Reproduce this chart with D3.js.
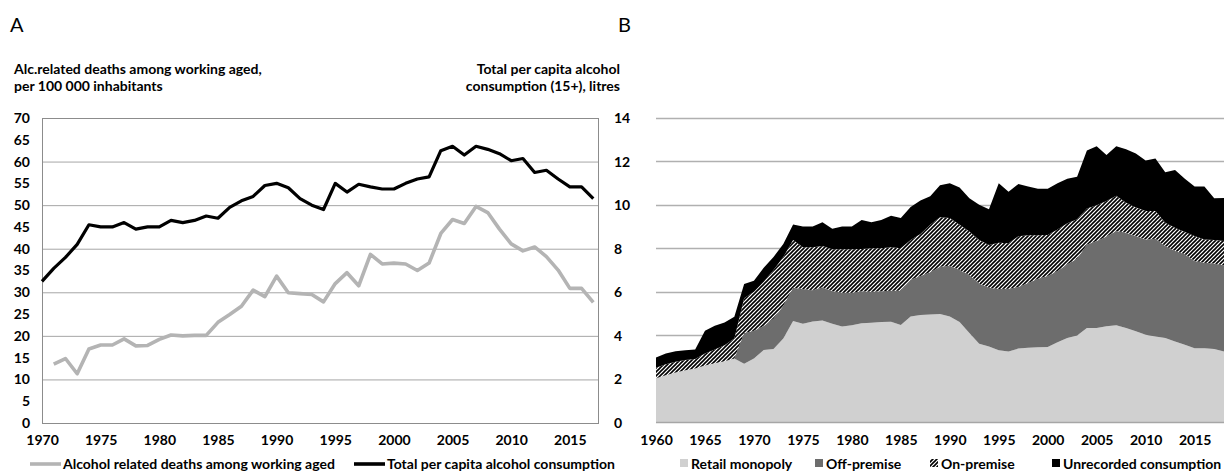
<!DOCTYPE html>
<html>
<head>
<meta charset="utf-8">
<script src="https://cdn.jsdelivr.net/npm/d3@7"></script>
<style>
  body { margin: 0; background: #fff; }
  svg { font-family: Lato, "Open Sans", sans-serif; }
</style>
</head>
<body>
<script>
const w = 1224;
const h = 472;
const fs = 14;

// * PANEL A DATA
const yearsA = d3.range(1970, 2018);
// alcohol related deaths among working aged, per 100 000 (starts 1971)
const deaths = [null, 13.5, 14.8, 11.3, 17, 17.9, 17.9, 19.3, 17.7, 17.8,
	19.2, 20.2, 20, 20.1, 20.1, 23.1, 24.9, 26.8, 30.5, 29,
	33.7, 29.9, 29.7, 29.5, 27.8, 32, 34.5, 31.5, 38.7, 36.5,
	36.7, 36.5, 35, 36.7, 43.5, 46.7, 45.8, 49.7, 48.3, 44.5,
	41.1, 39.5, 40.4, 38.2, 35.1, 30.9, 30.9, 27.7];
// total per capita consumption (15+), litres
const consumption = [6.5, 7.1, 7.6, 8.2, 9.1, 9.0, 9.0, 9.2, 8.9, 9.0,
	9.0, 9.3, 9.2, 9.3, 9.5, 9.4, 9.9, 10.2, 10.4, 10.9,
	11.0, 10.8, 10.3, 10.0, 9.8, 11.0, 10.6, 10.96, 10.84, 10.74,
	10.74, 11.0, 11.2, 11.3, 12.5, 12.7, 12.3, 12.7, 12.56, 12.36,
	12.04, 12.14, 11.5, 11.6, 11.2, 10.84, 10.84, 10.3];
const leftTicks = d3.range(0, 71, 5);
const rightTicks = d3.range(0, 15, 2);
const xTicksA = d3.range(1970, 2016, 5);

// * PANEL B DATA
const yearsB = d3.range(1960, 2019);
const retail = [2.02, 2.15, 2.28, 2.38, 2.46, 2.60, 2.70, 2.80, 2.92, 2.68,
	2.93, 3.32, 3.36, 3.85, 4.65, 4.52, 4.63, 4.68, 4.52, 4.40,
	4.45, 4.55, 4.57, 4.60, 4.62, 4.47, 4.86, 4.93, 4.95, 4.97,
	4.86, 4.60, 4.10, 3.60, 3.48, 3.30, 3.25, 3.38, 3.42, 3.44,
	3.45, 3.67, 3.87, 3.98, 4.33, 4.33, 4.41, 4.45, 4.33, 4.18,
	4.02, 3.94, 3.87, 3.71, 3.56, 3.40, 3.40, 3.36, 3.25];
const offPremise = [0, 0, 0, 0, 0, 0, 0, 0, 0, 1.42,
	1.27, 1.10, 1.39, 1.50, 1.53, 1.60, 1.44, 1.52, 1.51, 1.55,
	1.50, 1.47, 1.43, 1.42, 1.43, 1.58, 1.69, 1.79, 1.95, 2.18,
	2.34, 2.40, 2.67, 2.78, 2.70, 2.82, 2.89, 2.84, 2.98, 3.16,
	3.27, 3.28, 3.39, 3.54, 3.85, 4.01, 4.13, 4.35, 4.39, 4.39,
	4.39, 4.50, 4.23, 4.16, 4.16, 4.01, 3.93, 3.94, 3.96];
const onPremise = [0.48, 0.51, 0.49, 0.47, 0.44, 0.55, 0.64, 0.74, 0.93, 1.60,
	1.80, 2.04, 2.25, 2.25, 2.20, 1.93, 1.98, 1.90, 1.92, 2.00,
	2.00, 1.95, 2.00, 1.98, 2.00, 1.95, 1.83, 1.94, 2.18, 2.28,
	2.20, 2.08, 2.00, 2.00, 1.97, 2.14, 2.09, 2.33, 2.20, 2.00,
	1.89, 1.92, 1.89, 1.82, 1.65, 1.64, 1.64, 1.62, 1.38, 1.31,
	1.31, 1.28, 1.08, 1.08, 1.03, 1.16, 1.08, 1.08, 1.13];
const unrecorded = [0.47, 0.49, 0.49, 0.45, 0.44, 1.05, 1.09, 1.04, 1.00, 0.65,
	0.50, 0.64, 0.60, 0.60, 0.72, 0.95, 0.95, 1.10, 0.95, 1.05,
	1.05, 1.33, 1.20, 1.30, 1.45, 1.40, 1.52, 1.54, 1.32, 1.47,
	1.60, 1.72, 1.53, 1.62, 1.65, 2.74, 2.37, 2.41, 2.24, 2.14,
	2.13, 2.13, 2.05, 1.96, 2.67, 2.72, 2.12, 2.28, 2.46, 2.48,
	2.32, 2.42, 2.32, 2.65, 2.45, 2.27, 2.43, 1.92, 1.98];
const seriesB = ["Retail monopoly", "Off-premise", "On-premise", "Unrecorded consumption"];
const xTicksB = d3.range(1960, 2016, 5);

const svg = d3.select("body").append("svg")
	.attr("width", w)
	.attr("height", h);

// hatch for on-premise
const defs = svg.append("defs");
const pat = defs.append("pattern")
	.attr("id", "hatch")
	.attr("patternUnits", "userSpaceOnUse")
	.attr("width", 4)
	.attr("height", 4);
pat.append("rect").attr("width", 4).attr("height", 4).attr("fill", "#fff");
pat.append("path")
	.attr("d", "M-1,1 l2,-2 M0,4 l4,-4 M3,5 l2,-2")
	.attr("stroke", "#000")
	.attr("stroke-width", 1.6);

const fill = {
	"Retail monopoly": "#d0d0d0",
	"Off-premise": "#6d6d6d",
	"On-premise": "url(#hatch)",
	"Unrecorded consumption": "#000"
};

const plotTop = 118, plotBottom = 423;

// ================= PANEL A =================
const xA = d3.scaleLinear().domain([1970, 2017.4]).range([42, 598]);
const yL = d3.scaleLinear().domain([0, 70]).range([plotBottom, plotTop]);
const yR = d3.scaleLinear().domain([0, 14]).range([plotBottom, plotTop]);

svg.append("text").attr("x", 10).attr("y", 32)
	.attr("font-size", 20).text("A");

svg.append("g")
	.attr("font-size", fs).attr("font-weight", 700)
	.selectAll("text")
	.data(["Alc.related deaths among working aged,", "per 100 000 inhabitants"])
	.join("text")
	.attr("x", 14).attr("y", (d, i) => 74 + i * 17)
	.text((d) => d);

svg.append("g")
	.attr("font-size", fs).attr("font-weight", 700)
	.attr("text-anchor", "end")
	.selectAll("text")
	.data(["Total per capita alcohol", "consumption (15+), litres"])
	.join("text")
	.attr("x", 620).attr("y", (d, i) => 74 + i * 17)
	.text((d) => d);

// gridlines
svg.append("g")
	.selectAll("line")
	.data(d3.range(10, 70, 10))
	.join("line")
	.attr("x1", 42).attr("x2", 598)
	.attr("y1", (d) => yL(d) + 0.5).attr("y2", (d) => yL(d) + 0.5)
	.attr("stroke", "#a6a6a6");

svg.append("rect")
	.attr("x", 42.5).attr("y", plotTop + 0.5)
	.attr("width", 598 - 42).attr("height", plotBottom - plotTop)
	.attr("fill", "none").attr("stroke", "#8c8c8c");

function styleTicks(g) {
	g.select(".domain").remove();
	g.selectAll("text").attr("font-size", fs).attr("font-weight", 700)
		.attr("font-family", "Lato").attr("fill", "#000");
}

const leftAxis = d3.axisLeft(yL).tickValues(leftTicks).tickSize(0).tickPadding(12);
svg.append("g").attr("transform", "translate(42,0)").call(leftAxis).call(styleTicks);

const rightAxis = d3.axisRight(yR).tickValues(rightTicks).tickSize(0).tickPadding(16);
svg.append("g").attr("transform", "translate(598,0)").call(rightAxis).call(styleTicks);

const bottomA = d3.axisBottom(xA).tickValues(xTicksA).tickFormat(d3.format("d")).tickSize(0).tickPadding(12);
svg.append("g").attr("transform", "translate(0," + plotBottom + ")").call(bottomA).call(styleTicks);

const deathLine = d3.line()
	.defined((d, i) => deaths[i] != null)
	.x((d) => xA(d))
	.y((d, i) => yL(deaths[i]));
svg.append("path")
	.attr("d", deathLine(yearsA))
	.attr("fill", "none").attr("stroke", "#b4b4b4")
	.attr("stroke-width", 3.6).attr("stroke-linejoin", "round");

const consLine = d3.line()
	.x((d) => xA(d))
	.y((d, i) => yR(consumption[i]));
svg.append("path")
	.attr("d", consLine(yearsA))
	.attr("fill", "none").attr("stroke", "#000")
	.attr("stroke-width", 3.2).attr("stroke-linejoin", "round");

// legend A
const legA = svg.append("g").attr("font-size", fs).attr("font-weight", 700);
[["Alcohol related deaths among working aged", "#b4b4b4", 30], ["Total per capita alcohol consumption", "#000", 354]]
	.forEach(([label, col, x0]) => {
		legA.append("line").attr("x1", x0).attr("x2", x0 + 31)
			.attr("y1", 464).attr("y2", 464)
			.attr("stroke", col).attr("stroke-width", 3.6);
		legA.append("text").attr("x", x0 + 33).attr("y", 469).text(label);
	});

// ================= PANEL B =================
const xB = d3.scaleLinear().domain([1960, 2018]).range([656, 1224]);
const yB = d3.scaleLinear().domain([0, 14]).range([plotBottom - 1, plotTop]);

svg.append("text").attr("x", 618).attr("y", 32)
	.attr("font-size", 20).text("B");

svg.append("g")
	.selectAll("line")
	.data(d3.range(2, 15, 2))
	.join("line")
	.attr("x1", 656).attr("x2", 1224)
	.attr("y1", (d) => Math.round(yB(d)) + 0.5).attr("y2", (d) => Math.round(yB(d)) + 0.5)
	.attr("stroke", "#b0b0b0").attr("stroke-width", 1.5);

const rowsB = yearsB.map((yr, i) => ({
	year: yr,
	"Retail monopoly": retail[i],
	"Off-premise": offPremise[i],
	"On-premise": onPremise[i],
	"Unrecorded consumption": unrecorded[i]
}));
const stacked = d3.stack().keys(seriesB)(rowsB);
const areaB = d3.area()
	.x((d) => xB(d.data.year))
	.y0((d) => yB(d[0]))
	.y1((d) => yB(d[1]));

svg.append("g")
	.selectAll("path")
	.data(stacked)
	.join("path")
	.attr("d", areaB)
	.attr("fill", (d) => fill[d.key]);

svg.append("line")
	.attr("x1", 656).attr("x2", 1224)
	.attr("y1", plotBottom - 0.5).attr("y2", plotBottom - 0.5)
	.attr("stroke", "#a6a6a6").attr("stroke-width", 1.5);

const bottomB = d3.axisBottom(xB).tickValues(xTicksB).tickFormat(d3.format("d")).tickSize(0).tickPadding(12);
svg.append("g").attr("transform", "translate(0," + plotBottom + ")").call(bottomB).call(styleTicks);

// legend B
const legB = svg.append("g").attr("font-size", fs).attr("font-weight", 700);
const legXB = [680, 815, 930, 1052];
seriesB.forEach((key, i) => {
	legB.append("rect").attr("x", legXB[i]).attr("y", 459)
		.attr("width", 8).attr("height", 8)
		.attr("fill", fill[key]);
	legB.append("text").attr("x", legXB[i] + 11).attr("y", 469).text(key);
});
</script>
</body>
</html>
